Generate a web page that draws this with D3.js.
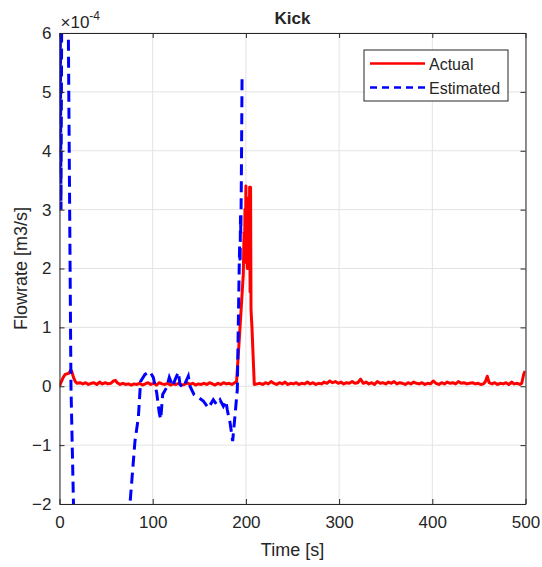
<!DOCTYPE html>
<html>
<head>
<meta charset="utf-8">
<script src="https://cdn.jsdelivr.net/npm/d3@7"></script>
<style>
  body { margin: 0; background: #fff; }
  text { font-family: "Liberation Sans", Arial, sans-serif; fill: #262626; }
</style>
</head>
<body>
<div id="chart"></div>
<script>
// Kick flowrate chart (values in units of 1e-4 m3/s)
const actualTime = [0, 2, 4, 6, 8, 10, 12, 13, 15, 17, 19, 22, 25, 28, 31, 34, 37, 40, 43, 46, 49, 52, 55, 58, 60, 62, 65, 68, 71, 74, 77, 80, 83, 86, 89, 92, 95, 98, 101, 104, 107, 110, 113, 116, 119, 122, 125, 128, 131, 134, 137, 140, 143, 146, 149, 152, 155, 158, 161, 164, 167, 170, 173, 176, 179, 182, 185, 188, 190,
  193.7, 197.2, 198, 198.5, 199, 199.5, 200, 200.5, 201, 201.5, 202, 202.5, 203, 203.5, 204, 204.5, 205, 205.5, 206.5, 209,
  212, 215, 218, 221, 224, 227, 230, 233, 236, 239, 242, 245, 248, 251, 254, 257, 260, 263, 266, 269, 272, 275, 278, 281, 284, 287, 290, 293, 296, 299, 302, 305, 308, 311, 314, 317, 320, 323, 326, 329, 332, 335, 338, 341, 344, 347, 350, 353, 356, 359, 362, 365, 368, 371, 374, 377, 380, 383, 386, 389, 392, 395, 398, 401, 404, 407, 410, 413, 416, 419, 422, 425, 428, 431, 434, 437, 440, 443, 446, 449, 452, 455, 457, 459, 461, 464, 467, 470, 473, 476, 479, 482, 485, 488, 491, 494, 496, 498, 499.5];
const actualFlow = [0, 0.08, 0.15, 0.2, 0.21, 0.22, 0.27, 0.26, 0.15, 0.08, 0.05, 0.06, 0.04, 0.06, 0.03, 0.05, 0.06, 0.03, 0.07, 0.04, 0.06, 0.04, 0.05, 0.09, 0.1, 0.06, 0.03, 0.05, 0.03, 0.04, 0.02, 0.04, 0.03, 0.05, 0.02, 0.04, 0.06, 0.03, 0.05, 0.02, 0.06, 0.04, 0.03, 0.05, 0.02, 0.04, 0.03, 0.05, 0.02, 0.03, 0.06, 0.03, 0.05, 0.02, 0.04, 0.03, 0.05, 0.03, 0.06, 0.04, 0.02, 0.05, 0.03, 0.06, 0.04, 0.05, 0.03, 0.06, 0.08,
  1.0, 1.9, 2.6, 2.1, 3.0, 2.3, 3.4, 2.2, 3.2, 2.0, 2.8, 2.0, 3.0, 2.1, 3.38, 1.6, 3.38, 1.3, 1.0, 0.03,
  0.04, 0.05, 0.03, 0.06, 0.04, 0.08, 0.05, 0.03, 0.06, 0.04, 0.07, 0.03, 0.05, 0.04, 0.06, 0.03, 0.05, 0.04, 0.07, 0.04, 0.06, 0.03, 0.05, 0.04, 0.07, 0.05, 0.09, 0.06, 0.08, 0.05, 0.07, 0.04, 0.06, 0.05, 0.08, 0.05, 0.06, 0.12, 0.05, 0.07, 0.04, 0.06, 0.03, 0.08, 0.05, 0.06, 0.04, 0.07, 0.05, 0.08, 0.04, 0.06, 0.05, 0.03, 0.06, 0.04, 0.07, 0.05, 0.04, 0.06, 0.03, 0.05, 0.04, 0.09, 0.05, 0.03, 0.06, 0.04, 0.07, 0.05, 0.06, 0.04, 0.08, 0.05, 0.06, 0.04, 0.05, 0.06, 0.04, 0.05, 0.03, 0.04, 0.08, 0.17, 0.06, 0.04, 0.06, 0.03, 0.05, 0.04, 0.06, 0.03, 0.07, 0.04, 0.05, 0.03, 0.05, 0.2, 0.26];

const estimatedTime = [0, 0.8, 1.6, 2.4, 3.5, 8.5, 9.5, 12.3, 15, 17, 73, 75.6, 81, 84.6, 87, 91.7, 97, 100.6, 104.3, 107, 108.6, 110.7, 115, 117.8, 121.5, 124, 127.5, 129.3, 132.8, 138.2, 140, 144.3, 149, 154.3, 159.7, 165, 168.6, 172.2, 175.8, 178.6, 180, 183, 185.8, 188.3, 190.8, 192, 192.8, 193.3, 193.8, 194.2, 194.6, 195, 195.3, 195.6, 195.9];
const estimatedFlow = [3.6, 6.5, 3.0, 6.5, 9, 9, 6.0, 0.0, -2.0, -3.5, -2.4, -2.0, -0.93, -0.53, 0.08, 0.2, 0.25, 0.15, -0.11, -0.45, -0.56, -0.14, -0.02, 0.15, 0.0, 0.11, 0.24, 0.03, -0.02, 0.17, 0.0, -0.14, -0.19, -0.25, -0.37, -0.23, -0.31, -0.23, -0.34, -0.25, -0.4, -0.62, -0.93, -0.5, -0.05, 1.2, 2.0, 2.4, 2.1, 2.9, 2.6, 3.3, 3.9, 4.6, 5.3];

const xTicks = [0, 100, 200, 300, 400, 500];
const yTicks = [-2, -1, 0, 1, 2, 3, 4, 5, 6];

const width = 542, height = 567;
const margin = {left: 59.5, right: 16.5, top: 33, bottom: 63};
const plotW = width - margin.left - margin.right;
const plotH = height - margin.top - margin.bottom;
const axisColor = '#262626';

const svg = d3.select('#chart').append('svg')
    .attr('width', width)
    .attr('height', height);

const x = d3.scaleLinear().domain([0, 500]).range([margin.left, margin.left + plotW]);
const y = d3.scaleLinear().domain([-2, 6]).range([margin.top + plotH, margin.top]);

// Grid
svg.append('g').selectAll('line').data(xTicks).enter().append('line')
    .attr('x1', d => x(d)).attr('x2', d => x(d))
    .attr('y1', margin.top).attr('y2', margin.top + plotH)
    .attr('stroke', '#e3e3e3').attr('stroke-width', 1);
svg.append('g').selectAll('line').data(yTicks).enter().append('line')
    .attr('x1', margin.left).attr('x2', margin.left + plotW)
    .attr('y1', d => y(d)).attr('y2', d => y(d))
    .attr('stroke', '#e3e3e3').attr('stroke-width', 1);

// Clip for data lines
svg.append('clipPath').attr('id', 'clip')
    .append('rect')
    .attr('x', margin.left).attr('y', margin.top)
    .attr('width', plotW).attr('height', plotH);

const line = d3.line().x(d => x(d[0])).y(d => y(d[1]));

const actual = actualTime.map((t, i) => [t, actualFlow[i]]);
const estimated = estimatedTime.map((t, i) => [t, estimatedFlow[i]]);

svg.append('path')
    .datum(actual)
    .attr('clip-path', 'url(#clip)')
    .attr('d', line)
    .attr('fill', 'none')
    .attr('stroke', '#ff0000')
    .attr('stroke-width', 3)
    .attr('stroke-linejoin', 'round');

svg.append('path')
    .datum(estimated)
    .attr('clip-path', 'url(#clip)')
    .attr('d', line)
    .attr('fill', 'none')
    .attr('stroke', '#0000ff')
    .attr('stroke-width', 3)
    .attr('stroke-dasharray', '11,6');

// Axes (box with inside ticks)
const xAxisB = d3.axisBottom(x).tickValues(xTicks).tickSizeInner(-5).tickSizeOuter(0).tickPadding(12);
const xAxisT = d3.axisTop(x).tickValues(xTicks).tickSizeInner(-5).tickSizeOuter(0).tickFormat('');
const yAxisL = d3.axisLeft(y).tickValues(yTicks).tickSizeInner(-5).tickSizeOuter(0).tickPadding(8);
const yAxisR = d3.axisRight(y).tickValues(yTicks).tickSizeInner(-5).tickSizeOuter(0).tickFormat('');

function styleAxis(g) {
    g.select('.domain').attr('stroke', axisColor).attr('stroke-width', 1);
    g.selectAll('.tick line').attr('stroke', axisColor);
    g.selectAll('.tick text').attr('fill', axisColor)
        .style('font-size', '17px')
        .style('font-family', '"Liberation Sans", Arial, sans-serif');
}

svg.append('g').attr('transform', 'translate(0,' + (margin.top + plotH) + ')').call(xAxisB).call(styleAxis);
svg.append('g').attr('transform', 'translate(0,' + margin.top + ')').call(xAxisT).call(styleAxis);
svg.append('g').attr('transform', 'translate(' + margin.left + ',0)').call(yAxisL).call(styleAxis);
svg.append('g').attr('transform', 'translate(' + (margin.left + plotW) + ',0)').call(yAxisR).call(styleAxis);

// Exponent label
const expo = svg.append('text')
    .attr('x', margin.left + 1)
    .attr('y', 28)
    .style('font-size', '17px');
expo.append('tspan').text('\u00d710');
expo.append('tspan').attr('dy', -8).style('font-size', '12px').text('-4');

// Title and axis labels
svg.append('text')
    .attr('x', margin.left + plotW / 2)
    .attr('y', 24)
    .attr('text-anchor', 'middle')
    .style('font-size', '17px')
    .style('font-weight', 'bold')
    .text('Kick');

svg.append('text')
    .attr('x', margin.left + plotW / 2)
    .attr('y', 556)
    .attr('text-anchor', 'middle')
    .style('font-size', '18px')
    .text('Time [s]');

svg.append('text')
    .attr('transform', 'translate(27,' + (margin.top + plotH / 2) + ') rotate(-90)')
    .attr('text-anchor', 'middle')
    .style('font-size', '18px')
    .text('Flowrate [m3/s]');

// Legend
const legendItems = [
    {label: 'Actual', color: '#ff0000', dash: null},
    {label: 'Estimated', color: '#0000ff', dash: '7,5'}
];
const legend = svg.append('g').attr('transform', 'translate(364,50)');
legend.append('rect')
    .attr('width', 144).attr('height', 51)
    .attr('fill', '#fff')
    .attr('stroke', axisColor).attr('stroke-width', 1);
legendItems.forEach(function(item, i) {
    const row = legend.append('g').attr('transform', 'translate(0,' + (13.5 + i * 24) + ')');
    row.append('line')
        .attr('x1', 6).attr('x2', 61)
        .attr('stroke', item.color)
        .attr('stroke-width', 2.5)
        .attr('stroke-dasharray', item.dash);
    row.append('text')
        .attr('x', 65).attr('y', 6)
        .style('font-size', '16px')
        .text(item.label);
});
</script>
</body>
</html>
